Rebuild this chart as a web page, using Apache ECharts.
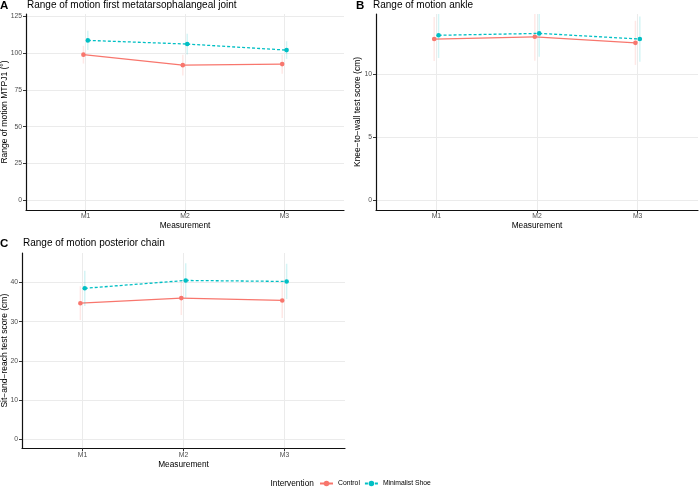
<!DOCTYPE html>
<html><head><meta charset="utf-8">
<script src="https://cdn.jsdelivr.net/npm/echarts@6/dist/echarts.min.js"></script>
<style>html,body{margin:0;padding:0;background:#fff}#c{width:700px;height:489px}</style>
</head><body><div id="c"></div>
<script>
const categories = ['M1', 'M2', 'M3'];
const groups = ['Control', 'Minimalist Shoe'];
const colors = ['#F8766D', '#00BFC4'];

// Panel A: MTPJ1 range of motion (deg)
const aControlMean = [98.9, 91.8, 92.5];
const aControlSd = [6.0, 7.0, 6.5];
const aMinimalMean = [108.6, 106.1, 102.0];
const aMinimalSd = [6.6, 7.0, 6.0];
const aTicks = [0, 25, 50, 75, 100, 125];
const aLimits = [-6.5, 126.5];

// Panel B: knee-to-wall (cm)
const bControlMean = [12.8, 12.98, 12.5];
const bControlSd = [1.75, 1.9, 1.75];
const bMinimalMean = [13.1, 13.25, 12.8];
const bMinimalSd = [1.8, 1.85, 1.8];
const bTicks = [0, 5, 10];
const bLimits = [-0.77, 14.79];

// Panel C: sit-and-reach (cm)
const cControlMean = [34.7, 36.0, 35.4];
const cControlSd = [4.3, 4.3, 4.5];
const cMinimalMean = [38.5, 40.5, 40.25];
const cMinimalSd = [4.5, 4.4, 4.5];
const cTicks = [0, 10, 20, 30, 40];
const cLimits = [-2.3, 47.5];

const panelTags = ['A', 'B', 'C'];
const panelTitles = [
  'Range of motion first metatarsophalangeal joint',
  'Range of motion ankle',
  'Range of motion posterior chain'
];
const yTitles = [
  'Range of motion MTPJ1 (°)',
  'Knee\u2212to\u2212wall test score (cm)',
  'Sit\u2212and\u2212reach test score (cm)'
];
const xTitle = 'Measurement';
const legendTitle = 'Intervention';

const panels = [
  {means: [aControlMean, aMinimalMean], sds: [aControlSd, aMinimalSd], ticks: aTicks, lim: aLimits},
  {means: [bControlMean, bMinimalMean], sds: [bControlSd, bMinimalSd], ticks: bTicks, lim: bLimits},
  {means: [cControlMean, cMinimalMean], sds: [cControlSd, cMinimalSd], ticks: cTicks, lim: cLimits}
];

const grids = [
  {left: 26, top: 14, width: 318, height: 196, outerBoundsMode: 'none', containLabel: false},
  {left: 376, top: 14, width: 322, height: 196, outerBoundsMode: 'none', containLabel: false},
  {left: 22, top: 253, width: 323, height: 195.3, outerBoundsMode: 'none', containLabel: false}
];
const yNameGaps = [16.5, 13.5, 13];
const tagPos = [[0, -0.5], [356, -0.5], [0, 237.5]];
const titlePos = [[27, 0], [373, 0], [23, 238]];

const FONT = 'Liberation Sans, Arial, Helvetica, sans-serif';
const catIdx = categories.map((c, i) => i);

const xAxes = grids.map((g, k) => ({
  type: 'value', gridIndex: k, min: -0.6, max: 2.6,
  axisLine: {show: true, onZero: false, lineStyle: {color: '#111', width: 1.2}},
  axisTick: {show: true, length: 3, customValues: catIdx, lineStyle: {color: '#333', width: 1}},
  axisLabel: {customValues: catIdx, formatter: v => categories[Math.round(v)] || '',
    fontSize: 6.8, color: '#4D4D4D', margin: 3, fontFamily: FONT},
  splitLine: {show: true, lineStyle: {color: '#EBEBEB', width: 1}},
  name: xTitle, nameLocation: 'middle', nameGap: 12, nameMoveOverlap: false,
  nameTextStyle: {fontSize: 8.3, color: '#000', fontFamily: FONT}
}));

const yAxes = panels.map((p, k) => ({
  type: 'value', gridIndex: k, min: p.lim[0], max: p.lim[1],
  axisLine: {show: true, onZero: false, lineStyle: {color: '#111', width: 1.2}},
  axisTick: {show: true, length: 3, customValues: p.ticks, lineStyle: {color: '#333', width: 1}},
  axisLabel: {customValues: p.ticks, fontSize: 6.8, color: '#4D4D4D', margin: 4, fontFamily: FONT},
  splitLine: {show: true, lineStyle: {color: '#EBEBEB', width: 1}},
  name: yTitles[k], nameLocation: 'middle', nameRotate: 90, nameGap: yNameGaps[k], nameMoveOverlap: false,
  nameTextStyle: {fontSize: 8.5, color: '#000', fontFamily: FONT}
}));

const series = [];
// legend-only series
groups.forEach((gname, gi) => {
  series.push({
    type: 'line', name: gname, xAxisIndex: 0, yAxisIndex: 0, data: [],
    color: colors[gi], symbol: 'circle', symbolSize: 4,
    lineStyle: {width: 1.3, type: gi === 1 ? [3, 2] : 'solid', color: colors[gi]},
    itemStyle: {color: colors[gi]}
  });
});

const dodge = [-2.2, 2.2];
panels.forEach((p, k) => {
  groups.forEach((gname, gi) => {
    const means = p.means[gi];
    const sds = p.sds[gi];
    const data = categories.map((c, i) => [i, means[i], sds[i]]);
    series.push({
      type: 'custom', name: gname + ' ' + panelTags[k], xAxisIndex: k, yAxisIndex: k,
      clip: true, data: data, z: 3 + gi,
      renderItem: function (params, api) {
        const i = api.value(0), m = api.value(1), s = api.value(2);
        const pt = api.coord([i, m]);
        const lo = api.coord([i, m - s]);
        const hi = api.coord([i, m + s]);
        const dx = dodge[gi];
        const ch = [];
        ch.push({type: 'line', shape: {x1: pt[0] + dx, y1: lo[1], x2: pt[0] + dx, y2: hi[1]},
          style: {stroke: colors[gi], opacity: 0.17, lineWidth: 1.5}});
        if (i + 1 < means.length) {
          const n = api.coord([i + 1, means[i + 1]]);
          ch.push({type: 'line', shape: {x1: pt[0] + dx, y1: pt[1], x2: n[0] + dx, y2: n[1]},
            style: {stroke: colors[gi], lineWidth: 1.3, lineDash: gi === 1 ? [3, 2] : null}});
        }
        ch.push({type: 'circle', shape: {cx: pt[0] + dx, cy: pt[1], r: 2.3}, style: {fill: colors[gi]}});
        return {type: 'group', children: ch};
      }
    });
  });
});

const titles = [];
panels.forEach((p, k) => {
  titles.push({text: panelTags[k], left: tagPos[k][0], top: tagPos[k][1], padding: 0,
    textStyle: {fontSize: 11.5, fontWeight: 'bold', color: '#000', fontFamily: FONT}});
  titles.push({text: panelTitles[k], left: titlePos[k][0], top: titlePos[k][1], padding: 0,
    textStyle: {fontSize: 10, fontWeight: 'normal', color: '#000', fontFamily: FONT}});
});
titles.push({text: legendTitle, left: 270.5, top: 480, padding: 0,
  textStyle: {fontSize: 8.3, fontWeight: 'normal', color: '#000', fontFamily: FONT}});

const chart = echarts.init(document.getElementById('c'), null, {renderer: 'canvas'});
chart.setOption({
  animation: false,
  backgroundColor: '#fff',
  title: titles,
  grid: grids,
  xAxis: xAxes,
  yAxis: yAxes,
  legend: {data: groups, left: 319, top: 480, padding: 0, itemWidth: 13, itemHeight: 7, itemGap: 4,
    selectedMode: false, textStyle: {fontSize: 6.8, color: '#000', fontFamily: FONT}},
  series: series
});
</script></body></html>
